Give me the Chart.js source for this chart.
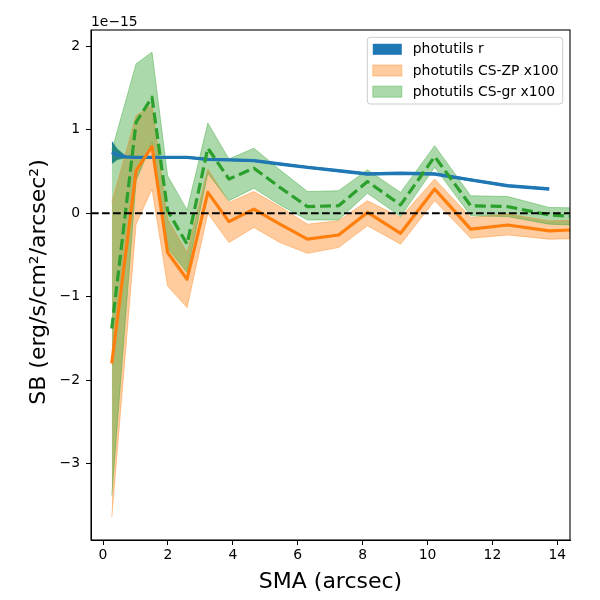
<!DOCTYPE html>
<html>
<head>
<meta charset="utf-8">
<script src="https://cdn.jsdelivr.net/npm/chart.js@4.4.0/dist/chart.umd.min.js"></script>
<style>
  html, body { margin: 0; padding: 0; background: #ffffff; }
  #wrap { width: 600px; height: 600px; }
</style>
</head>
<body>
<div id="wrap"><canvas id="c" width="600" height="600"></canvas></div>
<script>
// ---- data (surface brightness in units of 1e-15 erg/s/cm^2/arcsec^2) ----
const smaBins = [0.27, 1.02, 1.51, 1.99, 2.59, 3.23, 3.88, 4.65, 5.45, 6.30, 7.26, 8.15, 9.17, 10.22, 11.33, 12.47, 13.75, 15.10];

const zpMid  = [-1.80, 0.51, 0.80, -0.47, -0.79, 0.25, -0.10, 0.05, -0.13, -0.31, -0.26, 0.01, -0.24, 0.29, -0.19, -0.14, -0.21, -0.19];
const zpLow  = [-3.64, -0.13, 0.29, -0.87, -1.13, 0.00, -0.35, -0.17, -0.35, -0.48, -0.41, -0.15, -0.37, 0.15, -0.30, -0.26, -0.31, -0.30];
const zpHigh = [0.13, 1.17, 1.29, -0.07, -0.47, 0.53, 0.13, 0.26, 0.08, -0.13, -0.09, 0.15, -0.05, 0.41, -0.05, -0.01, -0.09, -0.08];

const grMid  = [-1.38, 1.09, 1.39, 0.03, -0.37, 0.78, 0.41, 0.54, 0.31, 0.08, 0.09, 0.38, 0.10, 0.68, 0.09, 0.08, -0.02, -0.05];
const grLow  = [-3.38, 0.39, 0.85, -0.42, -0.71, 0.48, 0.15, 0.30, 0.10, -0.08, -0.08, 0.24, -0.04, 0.55, -0.03, -0.04, -0.13, -0.15];
const grHigh = [0.75, 1.79, 1.93, 0.45, 0.04, 1.08, 0.65, 0.78, 0.52, 0.26, 0.27, 0.52, 0.25, 0.81, 0.21, 0.20, 0.07, 0.06];

const rSma  = [0.27, 0.45, 0.70, 1.02, 1.51, 1.99, 2.59, 3.23, 3.88, 4.65, 5.45, 6.30, 7.26, 8.15, 9.17, 10.22, 11.33, 12.47, 13.75];
const rMid  = [0.73, 0.70, 0.675, 0.67, 0.67, 0.67, 0.67, 0.645, 0.64, 0.63, 0.59, 0.55, 0.51, 0.47, 0.48, 0.47, 0.40, 0.33, 0.29];
const rLow  = [0.59, 0.64, 0.66, 0.655, 0.655, 0.655, 0.655, 0.63, 0.625, 0.615, 0.575, 0.535, 0.495, 0.455, 0.465, 0.455, 0.385, 0.315, 0.275];
const rHigh = [0.87, 0.77, 0.69, 0.685, 0.685, 0.685, 0.685, 0.66, 0.655, 0.645, 0.605, 0.565, 0.525, 0.485, 0.495, 0.485, 0.415, 0.345, 0.305];

const xTicks = [0, 2, 4, 6, 8, 10, 12, 14];
const yTicks = [-3, -2, -1, 0, 1, 2];
const xRange = [-0.37, 14.39];
const yRange = [-3.913, 2.195];

const legendLabels = ['photutils r', 'photutils CS-ZP x100', 'photutils CS-gr x100'];
const offsetText = '1e\u221215';
const xTitle = 'SMA (arcsec)';
const yTitle = 'SB (erg/s/cm\u00b2/arcsec\u00b2)';

// ---- styles ----
const C_BLUE = '#1f77b4';
const C_ORANGE = '#ff7f0e';
const C_GREEN = '#2ca02c';
const F_ORANGE = 'rgba(255,127,14,0.4)';
const F_GREEN = 'rgba(44,160,44,0.4)';
const FONT = '"DejaVu Sans", sans-serif';

const pts = (xs, ys) => xs.map((x, i) => ({ x: x, y: ys[i] }));

const bandLine = { pointRadius: 0, tension: 0, showLine: true };

const datasets = [
  Object.assign({ data: pts(rSma, rLow), borderWidth: 0, borderColor: C_BLUE, fill: false, order: 30 }, bandLine),
  Object.assign({ data: pts(rSma, rHigh), borderWidth: 0, borderColor: C_BLUE, backgroundColor: C_BLUE, fill: '-1', order: 30 }, bandLine),
  Object.assign({ data: pts(smaBins, zpLow), borderWidth: 1, borderColor: F_ORANGE, fill: false, order: 20 }, bandLine),
  Object.assign({ data: pts(smaBins, zpHigh), borderWidth: 1, borderColor: F_ORANGE, backgroundColor: F_ORANGE, fill: '-1', order: 20 }, bandLine),
  Object.assign({ data: pts(smaBins, grLow), borderWidth: 1, borderColor: F_GREEN, fill: false, order: 10 }, bandLine),
  Object.assign({ data: pts(smaBins, grHigh), borderWidth: 1, borderColor: F_GREEN, backgroundColor: F_GREEN, fill: '-1', order: 10 }, bandLine),
  Object.assign({ data: pts(rSma, rMid), borderWidth: 3.4, borderColor: C_BLUE, fill: false, order: 4, borderJoinStyle: 'round' }, bandLine),
  Object.assign({ data: pts(smaBins, zpMid), borderWidth: 3.2, borderColor: C_ORANGE, fill: false, order: 3, borderJoinStyle: 'round' }, bandLine),
  Object.assign({ data: pts(smaBins, grMid), borderWidth: 3.2, borderColor: C_GREEN, fill: false, order: 2, borderDash: [11, 4.8], borderJoinStyle: 'round' }, bandLine)
];

const decor = {
  id: 'decor',
  afterDatasetsDraw(chart) {
    const ctx = chart.ctx, a = chart.chartArea;
    const ys = chart.scales.y;
    const y0 = ys.getPixelForValue(0);
    ctx.save();
    ctx.beginPath();
    ctx.rect(a.left, a.top, a.right - a.left, a.bottom - a.top);
    ctx.clip();
    ctx.strokeStyle = '#000';
    ctx.lineWidth = 2.1;
    ctx.setLineDash([7.7, 3.3]);
    ctx.beginPath();
    ctx.moveTo(a.left, y0);
    ctx.lineTo(a.right, y0);
    ctx.stroke();
    ctx.restore();
  },
  afterDraw(chart) {
    const ctx = chart.ctx, a = chart.chartArea;
    ctx.save();
    ctx.strokeStyle = '#000';
    ctx.lineWidth = 1.1;
    ctx.setLineDash([]);
    ctx.strokeRect(a.left, a.top, a.right - a.left, a.bottom - a.top);

    ctx.fillStyle = '#000';
    ctx.font = '13.9px ' + FONT;
    ctx.textAlign = 'left';
    ctx.textBaseline = 'alphabetic';
    ctx.fillText(offsetText, a.left, a.top - 4);

    ctx.font = '22px ' + FONT;
    ctx.textAlign = 'center';
    ctx.fillText(xTitle, (a.left + a.right) / 2, 588);
    ctx.save();
    ctx.translate(39, (a.top + a.bottom) / 2 - 3);
    ctx.rotate(-Math.PI / 2);
    ctx.textBaseline = 'middle';
    ctx.fillText(yTitle, 0, 0);
    ctx.restore();

    const lx = a.right - 202.7, ly = a.top + 7.3, lw = 195.4, lh = 66.7, r = 3;
    ctx.beginPath();
    ctx.moveTo(lx + r, ly);
    ctx.lineTo(lx + lw - r, ly);
    ctx.quadraticCurveTo(lx + lw, ly, lx + lw, ly + r);
    ctx.lineTo(lx + lw, ly + lh - r);
    ctx.quadraticCurveTo(lx + lw, ly + lh, lx + lw - r, ly + lh);
    ctx.lineTo(lx + r, ly + lh);
    ctx.quadraticCurveTo(lx, ly + lh, lx, ly + lh - r);
    ctx.lineTo(lx, ly + r);
    ctx.quadraticCurveTo(lx, ly, lx + r, ly);
    ctx.closePath();
    ctx.fillStyle = 'rgba(255,255,255,0.8)';
    ctx.fill();
    ctx.strokeStyle = '#cccccc';
    ctx.lineWidth = 1;
    ctx.stroke();

    const fills = [C_BLUE, F_ORANGE, F_GREEN];
    ctx.font = '13.9px ' + FONT;
    ctx.textAlign = 'left';
    ctx.textBaseline = 'middle';
    legendLabels.forEach((lab, i) => {
      const cy = ly + 12 + i * 21.2;
      ctx.fillStyle = fills[i];
      ctx.fillRect(lx + 5.5, cy - 5.5, 29, 11);
      if (i > 0) {
        ctx.strokeStyle = fills[i];
        ctx.lineWidth = 1;
        ctx.strokeRect(lx + 5.5, cy - 5.5, 29, 11);
      }
      ctx.fillStyle = '#000';
      ctx.fillText(lab, lx + 45.5, cy + 0.5);
    });
    ctx.restore();
  }
};

const minus = v => String(v).replace('-', '\u2212');

new Chart(document.getElementById('c'), {
  type: 'line',
  data: { datasets: datasets },
  plugins: [decor],
  options: {
    responsive: false,
    animation: false,
    devicePixelRatio: 1,
    layout: { padding: { top: 30, right: 30, left: 0, bottom: 0 } },
    plugins: {
      legend: { display: false },
      tooltip: { enabled: false },
      filler: { drawTime: 'beforeDatasetsDraw', propagate: false }
    },
    scales: {
      x: {
        type: 'linear',
        min: xRange[0],
        max: xRange[1],
        afterFit: s => { s.height = 60; },
        afterBuildTicks: s => { s.ticks = xTicks.map(v => ({ value: v })); },
        ticks: { color: '#000', font: { family: FONT, size: 13.9 }, padding: 2, maxRotation: 0, callback: v => minus(v) },
        grid: { display: true, drawOnChartArea: false, drawTicks: true, tickLength: 5, color: '#000', tickWidth: 1 },
        border: { display: true, color: '#000', width: 1 }
      },
      y: {
        type: 'linear',
        min: yRange[0],
        max: yRange[1],
        afterFit: s => { s.width = 91; },
        afterBuildTicks: s => { s.ticks = yTicks.map(v => ({ value: v })); },
        ticks: { color: '#000', font: { family: FONT, size: 13.9 }, padding: 6, callback: v => minus(v) },
        grid: { display: true, drawOnChartArea: false, drawTicks: true, tickLength: 5, color: '#000', tickWidth: 1 },
        border: { display: true, color: '#000', width: 1 }
      }
    }
  }
});
</script>
</body>
</html>
